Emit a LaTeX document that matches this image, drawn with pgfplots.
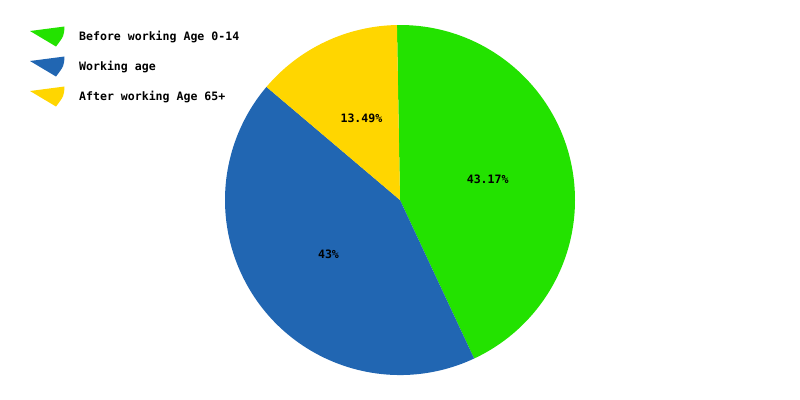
\documentclass[border=0pt]{standalone}
\usepackage{pgfplots}
\pgfplotsset{compat=1.18}
\usepackage{pgfplotstable}
\usetikzlibrary{calc}
\usepackage{fontspec}
\setmonofont{DejaVu Sans Mono}
\definecolor{cgreen}{RGB}{35,226,0}
\definecolor{cblue}{RGB}{33,102,178}
\definecolor{cyellow}{RGB}{255,214,0}
\pgfplotstableread[col sep=comma]{
name,value
Before working Age 0-14,43.17
Working age,43
After working Age 65+,13.49
}\piedata
\def\colzero{cgreen}\def\colone{cblue}\def\coltwo{cyellow}
% total
\def\total{0}
\foreach \i in {0,1,2}{%
  \pgfplotstablegetelem{\i}{value}\of\piedata
  \pgfmathparse{\total+\pgfplotsretval}\xdef\total{\pgfmathresult}}
% angles (clockwise from 91 deg)
\def\cur{91}
\foreach \i in {0,1,2}{%
  \pgfplotstablegetelem{\i}{value}\of\piedata
  \expandafter\xdef\csname val\i\endcsname{\pgfplotsretval}%
  \pgfmathsetmacro\sweep{360*\pgfplotsretval/\total}%
  \pgfmathsetmacro\endang{\cur-\sweep}%
  \pgfmathsetmacro\midang{\cur-\sweep/2}%
  \expandafter\xdef\csname s\i\endcsname{\cur}%
  \expandafter\xdef\csname e\i\endcsname{\endang}%
  \expandafter\xdef\csname m\i\endcsname{\midang}%
  \pgfplotstablegetelem{\i}{name}\of\piedata
  \expandafter\xdef\csname nm\i\endcsname{\pgfplotsretval}%
  \xdef\cur{\endang}}
\begin{document}
\begin{tikzpicture}
\useasboundingbox (0,0) rectangle (800bp,400bp);
\begin{axis}[
  at={(0,0)}, anchor=south west,
  scale only axis, width=800bp, height=400bp,
  xmin=0, xmax=800, ymin=0, ymax=400, y dir=reverse,
  hide axis, clip=false,
]
\pgfplotsinvokeforeach{0,1,2}{%
  \fill[\csname col\ifcase#1 zero\or one\or two\fi\endcsname]
    (axis cs:400,200) -- ++(\csname s#1\endcsname:175bp)
    arc[start angle=\csname s#1\endcsname, end angle=\csname e#1\endcsname, radius=175bp] -- cycle;
  \node[font=\ttfamily\bfseries\fontsize{11.6}{14}\selectfont, inner sep=0pt]
    at ($(axis cs:400,200)+(\csname m#1\endcsname:90bp)$) {\csname val#1\endcsname\%};
}
\pgfplotsinvokeforeach{0,1,2}{%
  \fill[\csname col\ifcase#1 zero\or one\or two\fi\endcsname]
    (axis cs:30,{31+30*#1}) -- (axis cs:64.5,{26.5+30*#1}) .. controls (axis cs:64,{36+30*#1}) .. (axis cs:56,{46.5+30*#1}) -- cycle;
  \node[font=\ttfamily\bfseries\fontsize{11.6}{14}\selectfont, anchor=west, inner sep=0pt]
    at (axis cs:79,{37+30*#1}) {\csname nm#1\endcsname};
}
\end{axis}
\end{tikzpicture}
\end{document}
